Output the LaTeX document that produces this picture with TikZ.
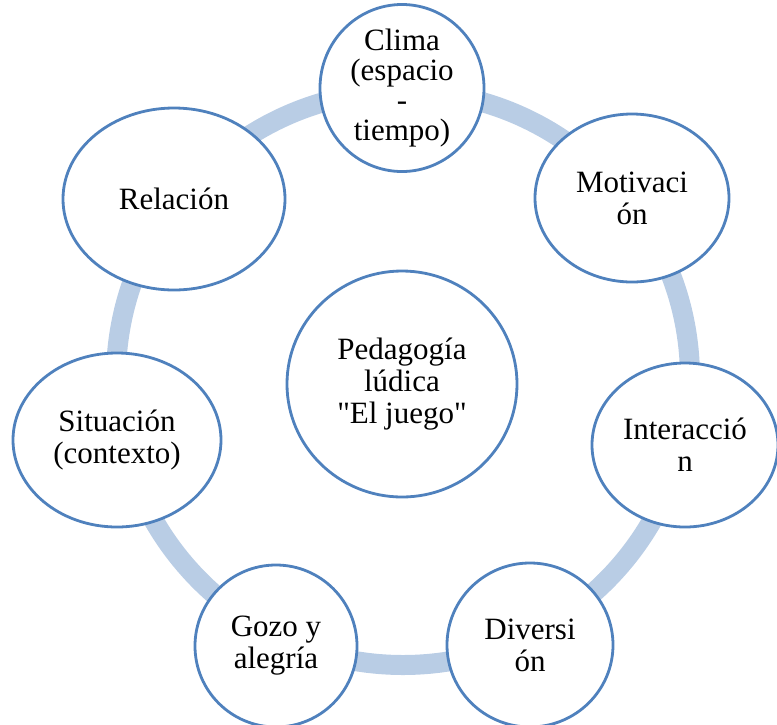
\documentclass[tikz,border=0pt]{standalone}
\usepackage{fontspec}
\setmainfont{Liberation Serif}[Ligatures=TeXOff]
\usetikzlibrary{shapes.geometric}
\definecolor{ringblue}{HTML}{B9CDE5}
\definecolor{edgeblue}{HTML}{4F81BD}
\begin{document}
\begin{tikzpicture}[x=1pt,y=-1pt,line join=round,
  bubble/.style={ellipse,draw=edgeblue,line width=2.8pt,fill=white,inner sep=0pt,
    align=center,font=\fontsize{31}{32}\selectfont}]
\useasboundingbox (0,0) rectangle (777,724);
% ring behind the bubbles
\draw[ringblue,line width=20pt] (403,378) circle[radius=287pt];

\node[bubble,minimum width=230pt,minimum height=226pt] (centro) at (402,384) {Pedagogía\\lúdica\\"El juego"};

\node[bubble,minimum width=164pt,minimum height=160pt,font=\fontsize{31}{30}\selectfont] (clima) at (402,88) {Clima\\(espacio\\-\\tiempo)};
\node[bubble,minimum width=194pt,minimum height=168pt] (motiv)   at (632,198) {Motivaci\\ón};
\node[bubble,minimum width=186pt,minimum height=164pt] (interac) at (685,445) {Interacció\\n};
\node[bubble,minimum width=166pt,minimum height=164pt] (divers)  at (530,645) {Diversi\\ón};
\node[bubble,minimum width=162pt,minimum height=162pt] (gozo)    at (276,646) {Gozo y\\alegría};
\node[bubble,minimum width=208pt,minimum height=174pt] (situac)  at (117,440) {Situación\\(contexto)};
\node[bubble,minimum width=222pt,minimum height=182pt] (relac)   at (174,199) {Relación};
\end{tikzpicture}
\end{document}
